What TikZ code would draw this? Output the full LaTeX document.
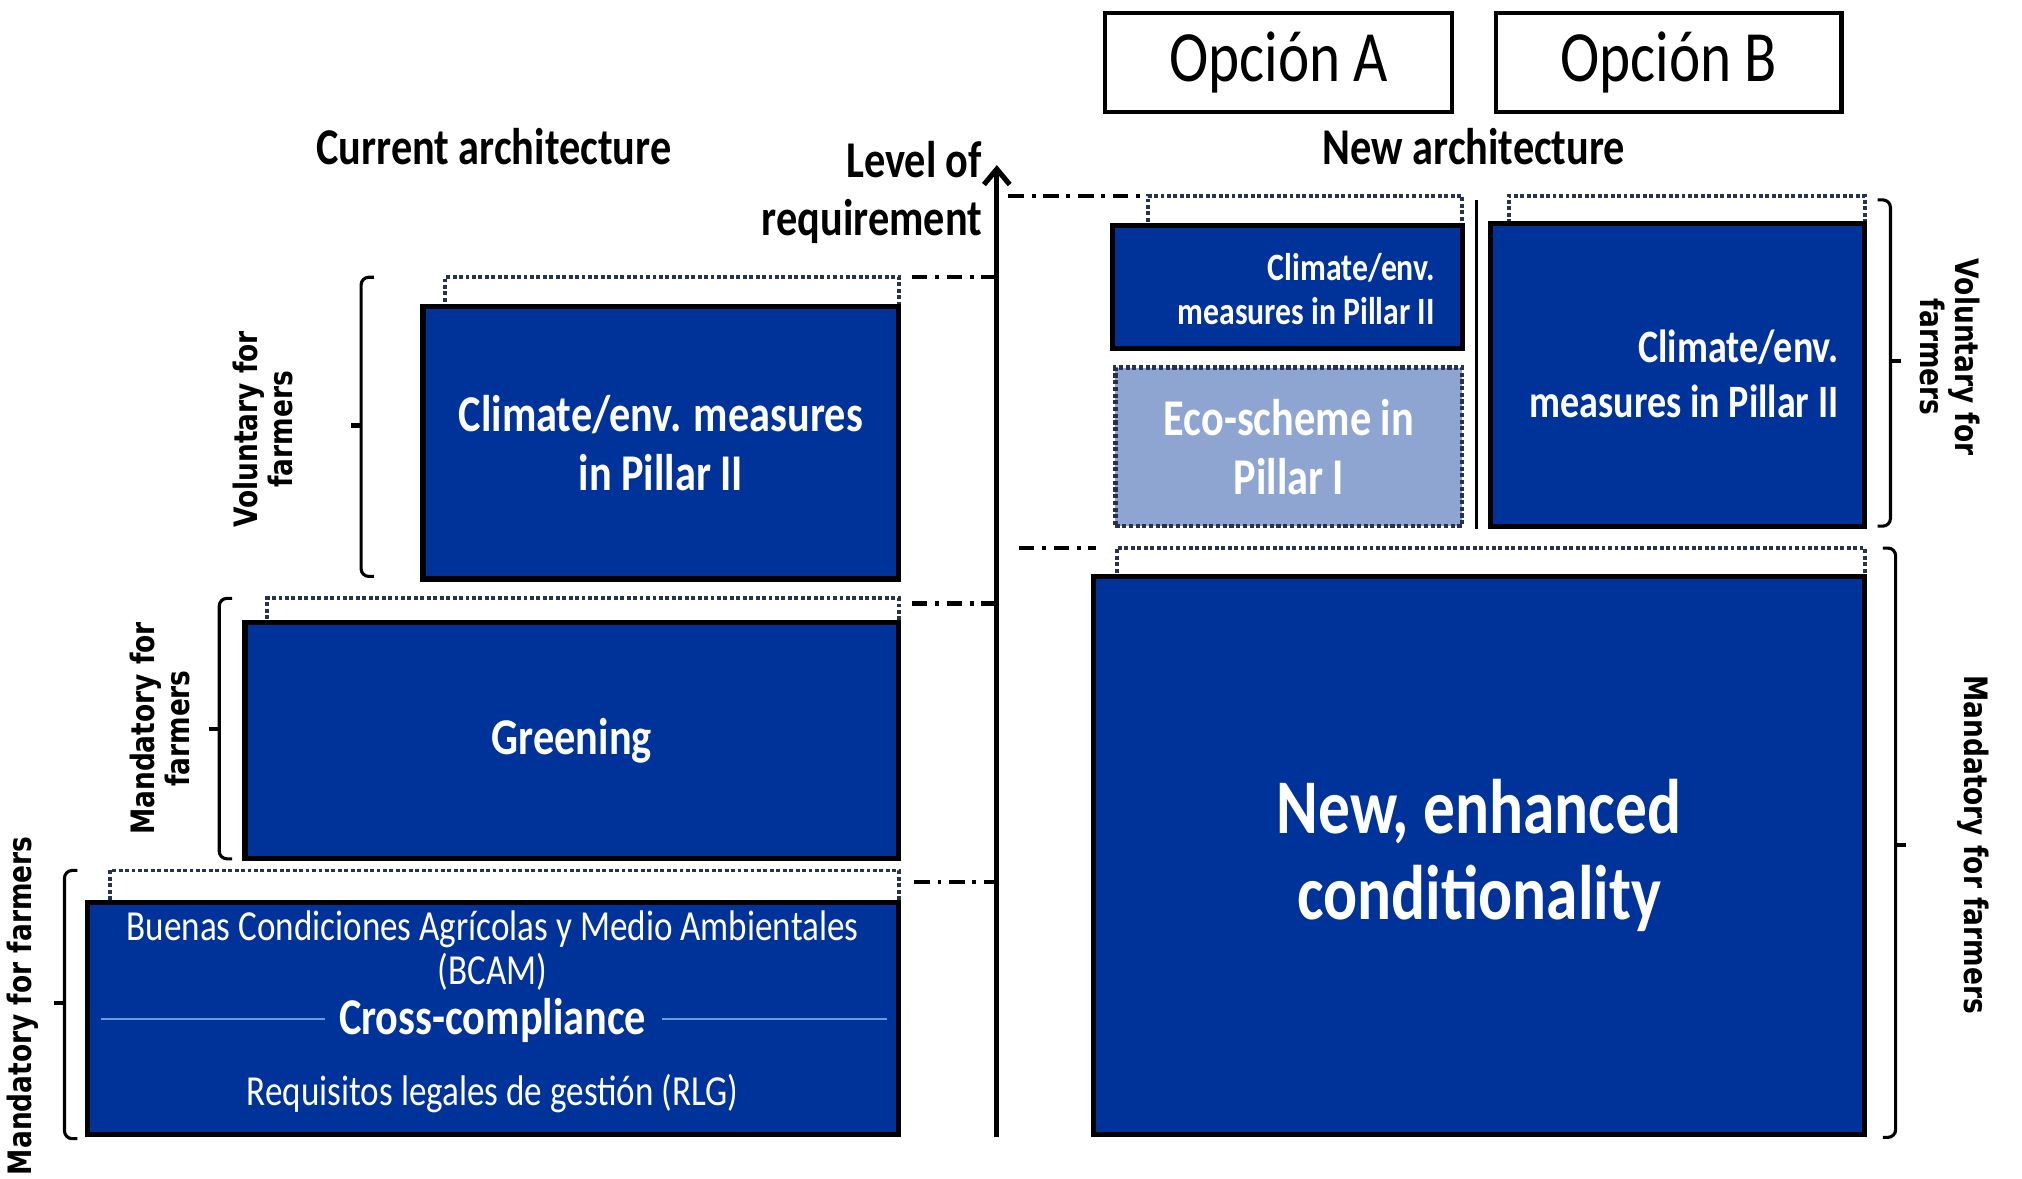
\documentclass[tikz,border=0pt]{standalone}
\usepackage{fontspec}
\setmainfont{Carlito}
\newfontfamily\cf[FakeStretch=0.82]{Carlito}
\newfontfamily\lf[FakeStretch=0.82]{DejaVu Sans}
\usetikzlibrary{arrows.meta,calc}
\definecolor{eublue}{HTML}{003399}
\definecolor{ecoblue}{HTML}{8EA5D1}
\definecolor{dotc}{HTML}{26324F}
\definecolor{ccline}{HTML}{6A9BE0}
\begin{document}
\begin{tikzpicture}[x=0.5pt,y=-0.5pt,
  bluebox/.style={draw=black, line width=2pt, fill=eublue, text=white, inner sep=0pt, outer sep=0pt, align=center},
  dotbox/.style={draw=dotc, densely dotted, line width=1.5pt, fill=white, inner sep=0pt, outer sep=0pt},
  ecobox/.style={draw=dotc, densely dotted, line width=1.6pt, fill=ecoblue, text=white, inner sep=0pt, outer sep=0pt, align=center},
  optbox/.style={draw=black, line width=1.6pt, fill=white, inner sep=0pt, outer sep=0pt, font={\cf\fontsize{28}{30}\selectfont}},
  hdr/.style={font={\cf\bfseries\fontsize{20}{23}\selectfont}, inner sep=0pt},
  btext/.style={font={\cf\bfseries\fontsize{20}{23}\selectfont}, text=white, inner sep=0pt},
  rtext/.style={font={\cf\fontsize{16.6}{17}\selectfont}, text=white, inner sep=0pt, align=center},
  lab/.style={font={\lf\bfseries\fontsize{12.5}{13.5}\selectfont}, inner sep=0pt, align=center},
  brk/.style={line width=1.2pt, rounded corners=3pt},
  tick/.style={line width=1.6pt},
  dashdot/.style={line width=1.6pt, dash pattern=on 6pt off 3pt on 1.5pt off 3pt},
  axisline/.style={line width=2pt, -{Straight Barb[length=6pt,width=10pt,line width=2pt]}},
  ccl/.style={draw=ccline, line width=0.6pt}
]
\useasboundingbox (0,0) rectangle (1568,914);

% ---------- current architecture ----------
\node[hdr] (cur) at (383,114) {Current architecture};

\node[dotbox, minimum width=176pt, minimum height=12.5pt] (lcdot) at (521,227.5) {};
\node[bluebox, font={\cf\bfseries\fontsize{20}{23}\selectfont}, minimum width=184.5pt, minimum height=105.5pt] (lclim) at (512.5,343.5) {Climate/env. measures\\in Pillar II};

\node[dotbox, minimum width=245pt, minimum height=11pt] (grdot) at (452,475) {};
\node[bluebox, font={\cf\bfseries\fontsize{20}{23}\selectfont}, minimum width=253.5pt, minimum height=91.5pt] (green) at (443.5,574.5) {Greening};

\node[dotbox, minimum width=306pt, minimum height=13pt] (ccdot) at (391,688) {};
\node[bluebox, minimum width=314.5pt, minimum height=90pt] (cross) at (382.5,790) {};
\node[rtext] (bcam) at (382,737) {Buenas Condiciones Agrícolas y Medio Ambientales\\(BCAM)};
\node[btext] (cc) at (382,791) {Cross-compliance};
\node[rtext] (rlg) at (382,848) {Requisitos legales de gestión (RLG)};
\coordinate (ccl1) at (78,790);
\coordinate (ccl2) at (252,790);
\coordinate (ccl3) at (513,790);
\coordinate (ccl4) at (688,790);
\draw[ccl] (ccl1) -- (ccl2);
\draw[ccl] (ccl3) -- (ccl4);

% brackets left
\draw[brk] (290,215) -- (280,215) -- (280,447) -- (290,447);
\draw[tick] (280,330) -- (272,330);
\draw[brk] (180,464) -- (170,464) -- (170,666) -- (180,666);
\draw[tick] (170,565) -- (162,565);
\draw[brk] (60,675) -- (50,675) -- (50,883) -- (60,883);
\draw[tick] (50,778) -- (42,778);

\node[lab, rotate=90] (lv) at (204,333) {Voluntary for\\farmers};
\node[lab, rotate=90] (lm1) at (124,565) {Mandatory for\\farmers};
\node[lab, rotate=90] (lm2) at (18,780) {Mandatory for farmers};

% ---------- axis ----------
\coordinate (axb) at (773,882);
\coordinate (axt) at (773,128);
\draw[axisline] (axb) -- (axt);
\node[hdr, align=right, anchor=east, font={\cf\bfseries\fontsize{20}{22.5}\selectfont}] (lev) at (762,149) {Level of\\requirement};

\draw[dashdot] ($(lcdot.north east)+(10,0)$) -- (lcdot.north east -| axt);
\draw[dashdot] ($(grdot.north east)+(10,4)$) -- ($(grdot.north east -| axt)+(0,4)$);
\draw[dashdot] ($(ccdot.north east)+(12,9)$) -- ($(ccdot.north east -| axt)+(0,9)$);

% ---------- new architecture ----------
\node[optbox, minimum width=134.5pt, minimum height=38.5pt] (opta) at (991.5,48.5) {Opción A};
\node[optbox, minimum width=134pt, minimum height=38.5pt] (optb) at (1294,48.5) {Opción B};
\node[hdr] (newarch) at (1143,114) {New architecture};

\node[dotbox, minimum width=122pt, minimum height=12.5pt] (adot) at (1012,164.5) {};
\node[bluebox, minimum width=135.5pt, minimum height=47.5pt] (aclim) at (998.5,222.5) {};
\node[font={\cf\bfseries\fontsize{15}{17}\selectfont}, text=white, align=right, anchor=east, inner sep=0pt] (aclimt) at (1113,224) {Climate/env.\\measures in Pillar II};
\node[ecobox, font={\cf\bfseries\fontsize{20}{23}\selectfont}, minimum width=134.5pt, minimum height=61.5pt] (eco) at (999.5,346.5) {Eco-scheme in\\Pillar I};

\coordinate (sept) at (1145,155);
\coordinate (sepb) at (1145,410);
\draw[line width=1pt] (sept) -- (sepb);

\node[dotbox, minimum width=138pt, minimum height=12.5pt] (bdot) at (1308,164.5) {};
\node[bluebox, minimum width=145pt, minimum height=117.5pt] (bclim) at (1301,290.5) {};
\node[font={\cf\bfseries\fontsize{18}{21.5}\selectfont}, text=white, align=right, anchor=east, inner sep=0pt] (bclimt) at (1426,290) {Climate/env.\\measures in Pillar II};

\node[dotbox, minimum width=290pt, minimum height=12pt] (bigdot) at (1156,437) {};
\node[bluebox, font={\cf\bfseries\fontsize{30}{33.5}\selectfont}, minimum width=299pt, minimum height=216.5pt] (big) at (1147,663.5) {New, enhanced\\conditionality};

\draw[dashdot] ($(axt |- adot.north)+(9,0)$) -- ($(adot.north west)+(-5,0)$);
\draw[dashdot] ($(axt |- bigdot.north)+(17,0)$) -- ($(bigdot.north west)+(-16,0)$);

% brackets right
\draw[brk] (1456,155) -- (1466,155) -- (1466,408) -- (1456,408);
\draw[tick] (1466,280) -- (1474,280);
\draw[brk] (1460,425) -- (1470,425) -- (1470,882) -- (1460,882);
\draw[tick] (1470,655) -- (1478,655);

\node[lab, rotate=-90] (rv) at (1512,277) {Voluntary for\\farmers};
\node[lab, rotate=-90] (rm) at (1530,655) {Mandatory for farmers};
\end{tikzpicture}
\end{document}
